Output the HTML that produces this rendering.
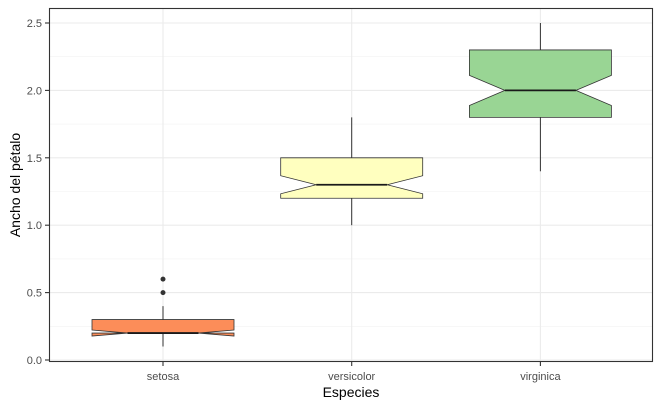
<!DOCTYPE html>
<html><head><meta charset="utf-8"><style>
body{margin:0;background:#fff;}
svg{display:block;font-family:"Liberation Sans",sans-serif;}
</style></head><body>
<svg id="chart" width="660" height="407">
<rect x="0" y="0" width="660" height="407" fill="#fff"/>
<g id="grid"></g>
<g id="boxes"></g>
<rect x="49.5" y="8.5" width="603" height="353" fill="none" stroke="#333" stroke-width="1.1"/>
<g id="axes"></g>
<text x="351" y="397" text-anchor="middle" font-size="14" fill="#000">Especies</text>
<text transform="translate(20,185) rotate(-90)" text-anchor="middle" font-size="14" fill="#000">Ancho del pétalo</text>
</svg>
<script>
const categories=["setosa","versicolor","virginica"];
const lowerWhisker=[0.1,1.0,1.4];
const q1=[0.2,1.2,1.8];
const medians=[0.2,1.3,2.0];
const q3=[0.3,1.5,2.3];
const upperWhisker=[0.4,1.8,2.5];
const nObs=[50,50,50];
const outliers=[[0.5,0.6],[],[]];
const fills=["#FC8D59","#FFFFBF","#99D594"];
const yTicks=[0,0.5,1,1.5,2,2.5];
const yTickLabels=["0.0","0.5","1.0","1.5","2.0","2.5"];

const NS="http://www.w3.org/2000/svg";
const y=v=>360-v*134.8;
const x=i=>163+i*188.7;
const bandHalf=71;
function mk(tag,attrs,parent){const e=document.createElementNS(NS,tag);for(const k in attrs)e.setAttribute(k,attrs[k]);parent.appendChild(e);return e;}
const grid=document.getElementById('grid'),boxes=document.getElementById('boxes'),axes=document.getElementById('axes');
for(let i=0;i<yTicks.length-1;i++){
  const l=mk('line',{x1:49.5,x2:652.5,y1:y((yTicks[i]+yTicks[i+1])/2),y2:y((yTicks[i]+yTicks[i+1])/2),stroke:'#f2f2f2','stroke-width':0.6},grid);
  
  
}
yTicks.forEach((t,i)=>{
  const l=mk('line',{x1:49.5,x2:652.5,y1:y(t),y2:y(t),stroke:'#ebebeb','stroke-width':1.1},grid);
  
  
  const tk=mk('line',{x1:45,x2:49.5,y1:y(t),y2:y(t),stroke:'#333','stroke-width':1.1},axes);
  
  
  const tx=mk('text',{x:42,y:y(t)+4,'text-anchor':'end','font-size':11,fill:'#4d4d4d'},axes);
  tx.textContent=yTickLabels[i];
  
  
});
categories.forEach((c,i)=>{
  const cx=x(i);
  const gl=mk('line',{x1:cx,x2:cx,y1:8.5,y2:361.5,stroke:'#ebebeb','stroke-width':1.1},grid);
  
  
  const tk=mk('line',{x1:cx,x2:cx,y1:361.5,y2:366,stroke:'#333','stroke-width':1.1},axes);
  
  
  const tx=mk('text',{x:cx,y:380,'text-anchor':'middle','font-size':11,fill:'#4d4d4d'},axes);
  tx.textContent=c;
  
  
  const g=mk('g',{},boxes);
  
  
  mk('line',{x1:cx,x2:cx,y1:y(q3[i]),y2:y(upperWhisker[i]),stroke:'#333','stroke-width':1},g);
  mk('line',{x1:cx,x2:cx,y1:y(q1[i]),y2:y(lowerWhisker[i]),stroke:'#333','stroke-width':1},g);
  const iqr=q3[i]-q1[i];
  const nu=medians[i]+1.58*iqr/Math.sqrt(nObs[i]);
  const nl=medians[i]-1.58*iqr/Math.sqrt(nObs[i]);
  const xl=cx-bandHalf,xr=cx+bandHalf,nxl=cx-bandHalf/2,nxr=cx+bandHalf/2;
  const pts=[[xl,q3[i]],[xl,nu],[nxl,medians[i]],[xl,nl],[xl,q1[i]],[xr,q1[i]],[xr,nl],[nxr,medians[i]],[xr,nu],[xr,q3[i]]];
  mk('polygon',{points:pts.map(p=>p[0]+','+y(p[1])).join(' '),fill:fills[i],stroke:'#333','stroke-width':0.8},g);
  mk('line',{x1:nxl,x2:nxr,y1:y(medians[i]),y2:y(medians[i]),stroke:'#1a1a1a','stroke-width':1.8},g);
  outliers[i].forEach(o=>{
    const p=mk('circle',{cx:cx,cy:y(o),r:2.5,fill:'#333'},g);
    
    
  });
});
</script>
</body></html>
